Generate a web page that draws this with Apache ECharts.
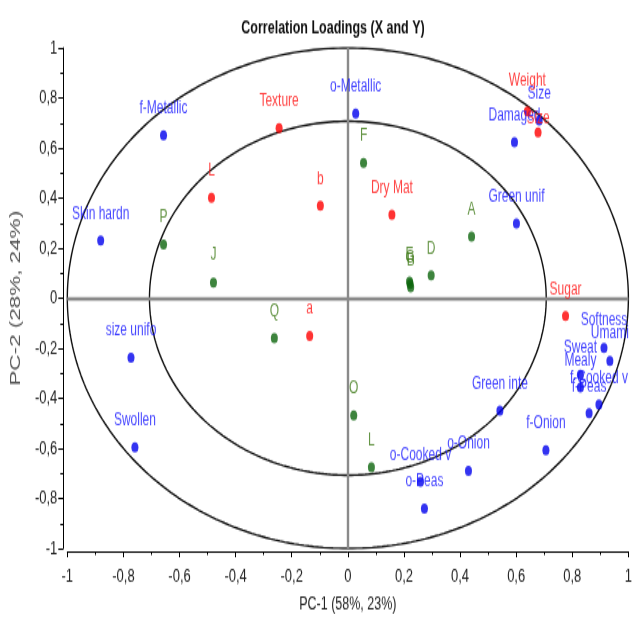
<!DOCTYPE html>
<html>
<head>
<meta charset="utf-8">
<script src="https://cdn.jsdelivr.net/npm/echarts@6/dist/echarts.min.js"></script>
<style>
  html, body { margin: 0; padding: 0; background: #fff; }
  #frame { position: relative; width: 635px; height: 621px; overflow: hidden; background: #fff; }
  /* the plot is drawn on a short canvas and stretched vertically to fill the frame */
  #chart { position: absolute; left: 0; top: 0; width: 635px; height: 428px;
           transform: scaleY(1.451); transform-origin: 0 0; }
</style>
</head>
<body>
<div id="frame"><div id="chart"></div></div>
<script>
// X-block loadings (blue)
const xNames = ['Skin hardn', 'f-Metallic', 'o-Metallic', 'Damaged', 'Size', 'Green unif',
  'Softness', 'Umami', 'Sweat', 'Mealy', 'f-Cooked v', 'f-Peas', 'Green inte', 'f-Onion',
  'o-Onion', 'o-Cooked v', 'o-Peas', 'size unifo', 'Swollen'];
const xPC1 = [-0.881, -0.657, 0.028, 0.594, 0.682, 0.601,
  0.913, 0.934, 0.829, 0.829, 0.895, 0.860, 0.542, 0.706,
  0.430, 0.259, 0.273, -0.773, -0.759];
const xPC2 = [0.230, 0.651, 0.738, 0.623, 0.710, 0.298,
  -0.198, -0.250, -0.306, -0.357, -0.425, -0.460, -0.449, -0.607,
  -0.690, -0.734, -0.841, -0.238, -0.595];

// Y-block loadings (red)
const yNames = ['Weight', 'Size', 'Texture', 'L', 'b', 'Dry Mat', 'Sugar', 'a'];
const yPC1 = [0.640, 0.678, -0.245, -0.486, -0.098, 0.157, 0.776, -0.136];
const yPC2 = [0.746, 0.663, 0.679, 0.401, 0.369, 0.333, -0.071, -0.151];

// Sample scores (green)
const sNames = ['F', 'A', 'P', 'J', 'E', 'G', 'B', 'D', 'Q', 'O', 'L'];
const sPC1 = [0.056, 0.441, -0.657, -0.479, 0.220, 0.222, 0.224, 0.297, -0.262, 0.021, 0.084];
const sPC2 = [0.540, 0.246, 0.214, 0.063, 0.067, 0.056, 0.044, 0.091, -0.159, -0.468, -0.675];

// Reference ellipses: 100% and 50% explained variance
const ellipseRadii = [1, Math.SQRT1_2];

const sans = "'Liberation Sans', Arial, sans-serif";

function ring(r) {
  const pts = [];
  for (let i = 0; i <= 360; i++) {
    const t = i * Math.PI / 180;
    pts.push([r * Math.cos(t), r * Math.sin(t)]);
  }
  return pts;
}

// label tweaks for crowded spots
const labelTweak = { 'Y:Size': { distance: 0 }, 'Y:Weight': { distance: 12 } };

function points(group, names, xs, ys) {
  return names.map((n, i) => {
    const item = { name: n, value: [xs[i], ys[i]] };
    const tw = labelTweak[group + ':' + n];
    if (tw) item.label = tw;
    return item;
  });
}

function pointSeries(name, data, dotColor, textColor) {
  return {
    name, type: 'scatter', data, symbolSize: 7, clip: false, z: 5,
    itemStyle: { color: dotColor },
    label: {
      show: true, position: 'top', distance: 9, formatter: '{b}',
      color: textColor, fontSize: 12, fontFamily: sans
    },
    emphasis: { disabled: true }
  };
}

const fmt = v => String(Math.round(v * 10) / 10).replace('.', ',');

const chart = echarts.init(document.getElementById('chart'));
chart.setOption({
  animation: false,
  backgroundColor: '#fff',
  title: {
    text: 'Correlation Loadings (X and Y)', left: 328, top: 8.5, textAlign: 'center',
    textStyle: { fontSize: 12.5, fontWeight: 'bold', color: '#111', fontFamily: sans }
  },
  grid: { left: 60, right: 3, top: 33, bottom: 46 },
  xAxis: {
    type: 'value', min: -1, max: 1, interval: 0.2, offset: 2,
    name: 'PC-1 (58%, 23%)', nameLocation: 'middle', nameGap: 30,
    nameTextStyle: { fontSize: 12.5, color: '#222', fontFamily: sans },
    axisLine: { show: true, onZero: false, lineStyle: { color: '#000', width: 1 } },
    axisTick: { show: true, length: 4, lineStyle: { color: '#000' } },
    minorTick: { show: true, splitNumber: 2, length: 2.5, lineStyle: { color: '#000' } },
    splitLine: { show: false },
    axisLabel: { formatter: fmt, fontSize: 13, color: '#222', fontFamily: sans, margin: 11 }
  },
  yAxis: {
    type: 'value', min: -1, max: 1, interval: 0.2, offset: 4,
    name: 'PC-2 (28%, 24%)', nameLocation: 'middle', nameGap: 30,
    nameTextStyle: { fontSize: 15.5, color: '#555', fontFamily: sans },
    axisLine: { show: true, onZero: false, lineStyle: { color: '#000', width: 1 } },
    axisTick: { show: true, length: 5, lineStyle: { color: '#000' } },
    minorTick: { show: true, splitNumber: 2, length: 3, lineStyle: { color: '#000' } },
    splitLine: { show: false },
    axisLabel: { formatter: fmt, fontSize: 13, color: '#222', fontFamily: sans, margin: 6 }
  },
  series: [
    {
      type: 'line', data: [], silent: true, z: 1,
      markLine: {
        silent: true, symbol: 'none', label: { show: false },
        lineStyle: { color: '#8a8a8a', width: 2.4, type: 'solid' },
        data: [{ xAxis: 0 }, { yAxis: 0 }]
      }
    },
    ...ellipseRadii.map(r => ({
      type: 'line', data: ring(r), showSymbol: false, silent: true, z: 2,
      lineStyle: { color: '#111', width: 1.4 }
    })),
    pointSeries('X', points('X', xNames, xPC1, xPC2), '#0000ee', '#1414ff'),
    pointSeries('Y', points('Y', yNames, yPC1, yPC2), '#ff0000', '#ff1414'),
    pointSeries('Samples', points('S', sNames, sPC1, sPC2), '#0d650d', '#3f7a18')
  ]
});
</script>
</body>
</html>
